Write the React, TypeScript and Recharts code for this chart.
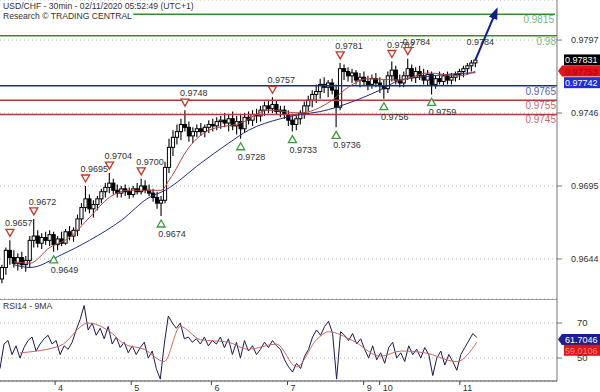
import {
  ComposedChart,
  Bar,
  Line,
  XAxis,
  YAxis,
  CartesianGrid,
  ReferenceLine,
  ReferenceDot,
} from "recharts"

const FONT = '"Liberation Sans", Arial, sans-serif'

// 30-min candles, one entry per slot (slots after the last candle stay empty)
const OPEN = [
  0.9630, 0.9638, 0.9650, 0.9645, 0.9641, 0.9645, 0.9640, 0.9643, 0.9657, 0.9660,
  0.9655, 0.9659, 0.9657, 0.9661, 0.9654, 0.9658, 0.9655, 0.9663, 0.9660, 0.9664,
  0.9672, 0.9680, 0.9686, 0.9679, 0.9682, 0.9686, 0.9691, 0.9694, 0.9697, 0.9692,
  0.9690, 0.9693, 0.9691, 0.9689, 0.9693, 0.9691, 0.9695, 0.9692, 0.9690, 0.9687,
  0.9683, 0.9685, 0.9708, 0.9722, 0.9729, 0.9733, 0.9738, 0.9736, 0.9730, 0.9733,
  0.9735, 0.9733, 0.9736, 0.9738, 0.9737, 0.9740, 0.9741, 0.9739, 0.9742, 0.9737,
  0.9740, 0.9735, 0.9743, 0.9741, 0.9745, 0.9744, 0.9748, 0.9751, 0.9749, 0.9752,
  0.9747, 0.9748, 0.9745, 0.9741, 0.9738, 0.9742, 0.9746, 0.9751, 0.9755, 0.9759,
  0.9761, 0.9766, 0.9764, 0.9767, 0.9762, 0.9750, 0.9777, 0.9775, 0.9772, 0.9774,
  0.9769, 0.9771, 0.9768, 0.9766, 0.9770, 0.9767, 0.9765, 0.9763, 0.9772, 0.9776,
  0.9769, 0.9767, 0.9772, 0.9777, 0.9771, 0.9775, 0.9772, 0.9769, 0.9773, 0.9766,
  0.9770, 0.9768, 0.9772, 0.9769, 0.9771, 0.9773, 0.9775, 0.9777, 0.9779, 0.9781,
]
const HIGH = [
  0.9640, 0.9652, 0.9657, 0.9650, 0.9648, 0.9649, 0.9646, 0.9660, 0.9672, 0.9664,
  0.9662, 0.9663, 0.9664, 0.9663, 0.9660, 0.9663, 0.9665, 0.9667, 0.9666, 0.9675,
  0.9683, 0.9695, 0.9689, 0.9685, 0.9688, 0.9693, 0.9697, 0.9704, 0.9700, 0.9696,
  0.9695, 0.9696, 0.9694, 0.9695, 0.9697, 0.9700, 0.9699, 0.9696, 0.9693, 0.9691,
  0.9688, 0.9712, 0.9728, 0.9734, 0.9738, 0.9742, 0.9748, 0.9740, 0.9736, 0.9738,
  0.9739, 0.9738, 0.9741, 0.9742, 0.9743, 0.9744, 0.9746, 0.9745, 0.9747, 0.9744,
  0.9745, 0.9746, 0.9747, 0.9748, 0.9749, 0.9751, 0.9754, 0.9755, 0.9757, 0.9755,
  0.9751, 0.9751, 0.9748, 0.9745, 0.9744, 0.9748, 0.9754, 0.9758, 0.9762, 0.9766,
  0.9770, 0.9771, 0.9769, 0.9770, 0.9766, 0.9781, 0.9780, 0.9778, 0.9777, 0.9776,
  0.9774, 0.9775, 0.9772, 0.9773, 0.9774, 0.9771, 0.9769, 0.9775, 0.9782, 0.9779,
  0.9773, 0.9775, 0.9784, 0.9780, 0.9778, 0.9779, 0.9777, 0.9776, 0.9775, 0.9772,
  0.9775, 0.9774, 0.9775, 0.9774, 0.9775, 0.9777, 0.9779, 0.9781, 0.9783, 0.9784,
]
const LOW = [
  0.9627, 0.9633, 0.9640, 0.9638, 0.9636, 0.9637, 0.9635, 0.9638, 0.9652, 0.9652,
  0.9651, 0.9654, 0.9653, 0.9649, 0.9650, 0.9653, 0.9654, 0.9657, 0.9656, 0.9660,
  0.9668, 0.9677, 0.9676, 0.9673, 0.9678, 0.9683, 0.9687, 0.9690, 0.9689, 0.9687,
  0.9687, 0.9688, 0.9686, 0.9687, 0.9689, 0.9689, 0.9690, 0.9688, 0.9684, 0.9679,
  0.9674, 0.9683, 0.9704, 0.9716, 0.9724, 0.9727, 0.9733, 0.9726, 0.9725, 0.9729,
  0.9730, 0.9729, 0.9732, 0.9733, 0.9734, 0.9735, 0.9736, 0.9733, 0.9734, 0.9731,
  0.9728, 0.9732, 0.9738, 0.9737, 0.9739, 0.9740, 0.9744, 0.9746, 0.9746, 0.9745,
  0.9743, 0.9742, 0.9737, 0.9733, 0.9734, 0.9738, 0.9742, 0.9747, 0.9750, 0.9753,
  0.9756, 0.9760, 0.9757, 0.9759, 0.9736, 0.9748, 0.9769, 0.9768, 0.9767, 0.9766,
  0.9764, 0.9765, 0.9762, 0.9763, 0.9764, 0.9760, 0.9756, 0.9760, 0.9768, 0.9766,
  0.9764, 0.9764, 0.9769, 0.9768, 0.9767, 0.9769, 0.9766, 0.9765, 0.9759, 0.9763,
  0.9766, 0.9765, 0.9766, 0.9766, 0.9768, 0.9769, 0.9771, 0.9773, 0.9775, 0.9778,
]
const CLOSE = [
  0.9638, 0.9650, 0.9645, 0.9641, 0.9645, 0.9640, 0.9643, 0.9657, 0.9660, 0.9655,
  0.9659, 0.9657, 0.9661, 0.9654, 0.9658, 0.9655, 0.9663, 0.9660, 0.9664, 0.9672,
  0.9680, 0.9686, 0.9679, 0.9682, 0.9686, 0.9691, 0.9694, 0.9697, 0.9692, 0.9690,
  0.9693, 0.9691, 0.9689, 0.9693, 0.9691, 0.9695, 0.9692, 0.9690, 0.9687, 0.9683,
  0.9685, 0.9708, 0.9722, 0.9729, 0.9733, 0.9738, 0.9736, 0.9730, 0.9733, 0.9735,
  0.9733, 0.9736, 0.9738, 0.9737, 0.9740, 0.9741, 0.9739, 0.9742, 0.9737, 0.9740,
  0.9735, 0.9743, 0.9741, 0.9745, 0.9744, 0.9748, 0.9751, 0.9749, 0.9752, 0.9747,
  0.9748, 0.9745, 0.9741, 0.9738, 0.9742, 0.9746, 0.9751, 0.9755, 0.9759, 0.9761,
  0.9766, 0.9764, 0.9767, 0.9762, 0.9750, 0.9777, 0.9775, 0.9772, 0.9774, 0.9769,
  0.9771, 0.9768, 0.9766, 0.9770, 0.9767, 0.9765, 0.9763, 0.9772, 0.9776, 0.9769,
  0.9767, 0.9772, 0.9777, 0.9771, 0.9775, 0.9772, 0.9769, 0.9773, 0.9766, 0.9770,
  0.9768, 0.9772, 0.9769, 0.9771, 0.9773, 0.9775, 0.9777, 0.9779, 0.9781, 0.9783,
]

// moving averages as [slot, value]
const MA_FAST = [
  [3, 0.9642], [7, 0.9641], [12, 0.9652], [17, 0.9659], [22, 0.9673], [27, 0.9687],
  [32, 0.9692], [40, 0.9692], [42, 0.9699], [47, 0.9722], [52, 0.9734], [60, 0.9739],
  [67, 0.9748], [75, 0.9746], [80, 0.975], [83, 0.9755], [87, 0.9764], [92, 0.977],
  [100, 0.9769], [107, 0.9774], [115, 0.9772], [119, 0.97753],
]
const MA_SLOW = [
  [3, 0.964], [7, 0.9638], [15, 0.9647], [22, 0.9657], [30, 0.9671], [37, 0.9687],
  [41, 0.9692], [50, 0.9711], [57, 0.9725], [62, 0.9734], [70, 0.9742], [75, 0.9745],
  [80, 0.9747], [84, 0.975], [90, 0.9756], [95, 0.9762], [100, 0.9769], [105, 0.9771],
  [112, 0.9773], [119, 0.97742],
]

const RSI = [
  44, 58, 60, 52, 57, 50, 56, 60, 62, 54,
  58, 61, 63, 58, 60, 52, 57, 55, 59, 66,
  72, 80, 66, 70, 63, 67, 61, 68, 58, 62,
  56, 59, 53, 57, 52, 56, 59, 50, 54, 44,
  38, 58, 74, 70, 67, 70, 61, 62, 59, 61,
  58, 62, 57, 60, 58, 62, 56, 61, 52, 59,
  50, 60, 54, 57, 52, 55, 59, 56, 60, 57,
  55, 49, 45, 42, 47, 44, 51, 55, 62, 66,
  63, 68, 71, 64, 38, 65, 63, 60, 64, 58,
  61, 55, 50, 57, 49, 53, 47, 56, 59, 50,
  53, 48, 57, 52, 55, 50, 56, 52, 40, 50,
  54, 46, 52, 48, 43, 52, 56, 60, 64, 61.7046,
]
const RSI_MA = [
  [5, 53], [15, 57], [22, 70], [28, 64], [31, 58], [36, 55], [41, 48], [45, 68],
  [50, 60.5], [57, 59], [62, 55], [69, 58], [74, 45], [79, 60.5], [82, 65], [88, 60],
  [95, 51], [100, 54], [106, 53], [114, 48], [119, 59.0106],
]

const DAY_SLOTS = [14, 33, 53, 72, 91, 95, 115]
const DAY_LABELS = ["4", "5", "6", "7", "9", "10", "11"]

const LEVELS = [0.9815, 0.98, 0.9765, 0.9755, 0.9745]
const LEVEL_LABELS = ["0.9815", "0.98", "0.9765", "0.9755", "0.9745"]

const PEAKS = [
  [2, 0.9657], [8, 0.9672], [21, 0.9695], [27, 0.9704], [35, 0.97], [46, 0.9748],
  [68, 0.9757], [85, 0.9781], [98, 0.9782], [102, 0.9784],
]
const TROUGHS = [
  [13, 0.9649], [40, 0.9674], [60, 0.9728], [73, 0.9733], [84, 0.9736], [96, 0.9756],
  [108, 0.9759],
]
const LAST_PEAK = [118, 0.9784]
const ARROW = [[119, 0.97831], [124, 0.9816]]

const PRICE_TICKS = [0.9644, 0.9695, 0.9746, 0.9797]
const RSI_TICKS = [50, 70]
const LAST_PRICE = 0.97831
const LAST_FAST = 0.97753
const LAST_SLOW = 0.97742
const LAST_RSI = 61.7046
const LAST_RSI_MA = 59.0106

const SLOTS = 140
const PRICE_DOMAIN = [0.9616, 0.9825]
const RSI_DOMAIN = [36.9, 83.7]

const data: any[] = Array.from({ length: SLOTS }, (_, i) => ({
  i,
  o: OPEN[i] ?? null,
  h: HIGH[i] ?? null,
  l: LOW[i] ?? null,
  c: CLOSE[i] ?? null,
  fast: null,
  slow: null,
  arrow: null,
  rsi: RSI[i] ?? null,
  rsiMa: null,
}))
MA_FAST.forEach(([i, v]) => (data[i].fast = v))
MA_SLOW.forEach(([i, v]) => (data[i].slow = v))
ARROW.forEach(([i, v]) => (data[i].arrow = v))
RSI_MA.forEach(([i, v]) => (data[i].rsiMa = v))

const LEVEL_STYLE = [
  { line: "#2f8f2f", text: "#78b878" },
  { line: "#2f8f2f", text: "#78b878" },
  { line: "#1b2a9a", text: "#5d5da8" },
  { line: "#b53a3a", text: "#c86a6a" },
  { line: "#b53a3a", text: "#c86a6a" },
]

function Candle(props: any) {
  const { x, y, width, height, payload } = props
  if (payload == null || payload.h == null || y == null) return null
  const top = Math.min(y, y + height)
  const bottom = Math.max(y, y + height)
  const k = (bottom - top) / (payload.h - payload.l || 1e-9)
  const cx = x + width / 2
  const yo = top + (payload.h - payload.o) * k
  const yc = top + (payload.h - payload.c) * k
  const up = payload.c >= payload.o
  return (
    <g>
      <line x1={cx} x2={cx} y1={top} y2={bottom} stroke="#000" strokeWidth={1.1} />
      <rect
        x={cx - 1.6}
        y={Math.min(yo, yc)}
        width={3.2}
        height={Math.max(Math.abs(yc - yo), 1)}
        fill={up ? "#fff" : "#000"}
        stroke="#000"
        strokeWidth={1}
      />
    </g>
  )
}

const arrowDot = (p: any) => {
  if (p.payload?.i !== ARROW[1][0] || p.cy == null)
    return <g key={`ad-${p.index}`} />
  return (
    <polygon
      key="arrow-tip"
      points={`${p.cx},${p.cy - 6} ${p.cx - 4.5},${p.cy + 6} ${p.cx + 4.5},${p.cy + 6}`}
      fill="#101c8c"
      transform={`rotate(22 ${p.cx} ${p.cy})`}
    />
  )
}

const peakShape = (text: string, tri: boolean) => (p: any) => (
  <g>
    {tri && (
      <polygon
        points={`${p.cx - 4},${p.cy - 11} ${p.cx + 4},${p.cy - 11} ${p.cx},${p.cy - 4}`}
        fill="#fff"
        stroke="#c0392b"
        strokeWidth={1.3}
      />
    )}
    <text x={p.cx - 5} y={p.cy - 14} fontSize={9} fill="#333" fontFamily={FONT}>
      {text}
    </text>
  </g>
)

const troughShape = (text: string) => (p: any) => (
  <g>
    <polygon
      points={`${p.cx - 4},${p.cy + 11} ${p.cx + 4},${p.cy + 11} ${p.cx},${p.cy + 4}`}
      fill="#fff"
      stroke="#3c9a3c"
      strokeWidth={1.3}
    />
    <text x={p.cx - 3} y={p.cy + 21} fontSize={9} fill="#333" fontFamily={FONT}>
      {text}
    </text>
  </g>
)

const levelLabel = (text: string, color: string) => (p: any) => {
  const vb = p.viewBox
  return (
    <text
      x={vb.x + vb.width - 1}
      y={vb.y + 9}
      textAnchor="end"
      fontSize={10}
      fill={color}
      fontFamily={FONT}
    >
      {text}
    </text>
  )
}

const valueBox =
  (text: string, bg: string, fg: string, dy: number, pointer: boolean) => (p: any) => {
    const x0 = p.viewBox.x + p.viewBox.width
    const y = p.viewBox.y + dy
    return (
      <g>
        {pointer ? (
          <polygon
            points={`${x0 + 1},${y} ${x0 + 5},${y - 5.5} 600,${y - 5.5} 600,${y + 5.5} ${x0 + 5},${y + 5.5}`}
            fill={bg}
          />
        ) : (
          <rect x={x0 + 7} y={y - 5.5} width={600 - x0 - 7} height={11} fill={bg} />
        )}
        <text x={x0 + 8} y={y + 3.5} fontSize={9} fill={fg} fontFamily={FONT}>
          {text}
        </text>
      </g>
    )
  }

function DayTick(props: any) {
  const { x, y, payload } = props
  const k = DAY_SLOTS.indexOf(payload.value)
  return (
    <g>
      <line x1={x - 1} x2={x - 1} y1={y} y2={y + 4} stroke="#444" />
      <text x={x + 2} y={y + 10} fontSize={9} fill="#333" fontFamily={FONT}>
        {DAY_LABELS[k]}
      </text>
    </g>
  )
}

const axisTick = { fontSize: 9, fill: "#333", fontFamily: FONT }

export default function App() {
  return (
    <div
      style={{
        position: "absolute",
        left: 0,
        top: 0,
        width: 600,
        height: 392,
        background: "#fff",
        fontFamily: FONT,
      }}
    >
      <ComposedChart
        width={600}
        height={299}
        data={data}
        margin={{ top: 0, right: 0, bottom: 0, left: 0 }}
      >
        <CartesianGrid vertical={false} stroke="#b5b5b5" strokeDasharray="1 3" />
        <XAxis dataKey="i" type="category" hide />
        <YAxis
          orientation="right"
          width={43}
          domain={PRICE_DOMAIN}
          ticks={PRICE_TICKS}
          allowDataOverflow
          tickFormatter={(v: number) => v.toFixed(4)}
          tick={axisTick}
          tickSize={5}
          tickMargin={9}
          axisLine={{ stroke: "#777" }}
          tickLine={{ stroke: "#777" }}
        />
        {LEVELS.map((v, k) =>
          k === 0 ? (
            <ReferenceLine
              key={v}
              segment={[
                { x: 33, y: v },
                { x: SLOTS - 1, y: v },
              ]}
              stroke={LEVEL_STYLE[k].line}
              strokeWidth={1.5}
              label={levelLabel(LEVEL_LABELS[k], LEVEL_STYLE[k].text)}
            />
          ) : (
            <ReferenceLine
              key={v}
              y={v}
              stroke={LEVEL_STYLE[k].line}
              strokeWidth={1.5}
              label={levelLabel(LEVEL_LABELS[k], LEVEL_STYLE[k].text)}
            />
          )
        )}
        <Bar
          dataKey={(d: any) => (d.h == null ? null : [d.l, d.h])}
          shape={Candle}
          isAnimationActive={false}
        />
        <Line
          dataKey="slow"
          type="monotone"
          connectNulls
          stroke="#232c7c"
          strokeWidth={1}
          dot={false}
          isAnimationActive={false}
        />
        <Line
          dataKey="fast"
          type="monotone"
          connectNulls
          stroke="#b2453f"
          strokeWidth={1}
          dot={false}
          isAnimationActive={false}
        />
        <Line
          dataKey="arrow"
          connectNulls
          stroke="#101c8c"
          strokeWidth={2}
          dot={arrowDot}
          isAnimationActive={false}
        />
        {PEAKS.map(([i, v]) => (
          <ReferenceDot key={`p${i}`} x={i} y={v} r={0} shape={peakShape(v.toFixed(4), true)} />
        ))}
        <ReferenceDot
          x={LAST_PEAK[0]}
          y={LAST_PEAK[1]}
          r={0}
          shape={peakShape(LAST_PEAK[1].toFixed(4), false)}
        />
        {TROUGHS.map(([i, v]) => (
          <ReferenceDot key={`t${i}`} x={i} y={v} r={0} shape={troughShape(v.toFixed(4))} />
        ))}
        <ReferenceLine
          y={LAST_PRICE}
          stroke="none"
          label={valueBox(LAST_PRICE.toFixed(5), "#000", "#fff", 0, false)}
        />
        <ReferenceLine
          y={LAST_FAST}
          stroke="none"
          label={valueBox(LAST_FAST.toFixed(5), "#e3121b", "#a3060d", 0, true)}
        />
        <ReferenceLine
          y={LAST_SLOW}
          stroke="none"
          label={valueBox(LAST_SLOW.toFixed(5), "#1f2ed6", "#fff", 10, false)}
        />
      </ComposedChart>

      <ComposedChart
        width={600}
        height={93}
        data={data}
        margin={{ top: 0, right: 0, bottom: 0, left: 0 }}
      >
        <CartesianGrid vertical={false} stroke="#b5b5b5" strokeDasharray="1 3" />
        <XAxis
          dataKey="i"
          type="category"
          ticks={DAY_SLOTS}
          interval={0}
          height={11}
          tick={DayTick}
          tickLine={false}
          tickSize={0}
          tickMargin={0}
          axisLine={{ stroke: "#444" }}
        />
        <YAxis
          orientation="right"
          width={43}
          domain={RSI_DOMAIN}
          ticks={RSI_TICKS}
          allowDataOverflow
          tick={{ ...axisTick, fontSize: 9.5 }}
          tickSize={5}
          tickMargin={15}
          axisLine={{ stroke: "#777" }}
          tickLine={{ stroke: "#777" }}
        />
        <ReferenceLine y={RSI_DOMAIN[1]} stroke="#444" />
        <Line
          dataKey="rsi"
          stroke="#1b1b4f"
          strokeWidth={1}
          dot={false}
          isAnimationActive={false}
        />
        <Line
          dataKey="rsiMa"
          type="monotone"
          connectNulls
          stroke="#c7685c"
          strokeWidth={1}
          dot={false}
          isAnimationActive={false}
        />
        <ReferenceLine
          y={LAST_RSI}
          stroke="none"
          label={valueBox(LAST_RSI.toFixed(4), "#1c1f8c", "#fff", 2, true)}
        />
        <ReferenceLine
          y={LAST_RSI_MA}
          stroke="none"
          label={valueBox(LAST_RSI_MA.toFixed(4), "#e3121b", "#f28a8a", 8, false)}
        />
      </ComposedChart>

      <div
        style={{
          position: "absolute",
          left: 3,
          top: 1,
          fontSize: 8.6,
          lineHeight: "10px",
          color: "#333",
          whiteSpace: "nowrap",
        }}
      >
        <div>USD/CHF - 30min - 02/11/2020 05:52:49 (UTC+1)</div>
        <div>Research © TRADING CENTRAL</div>
      </div>
      <div
        style={{
          position: "absolute",
          left: 3,
          top: 301,
          fontSize: 8.6,
          lineHeight: "10px",
          color: "#333",
        }}
      >
        RSI14 - 9MA
      </div>
    </div>
  )
}
